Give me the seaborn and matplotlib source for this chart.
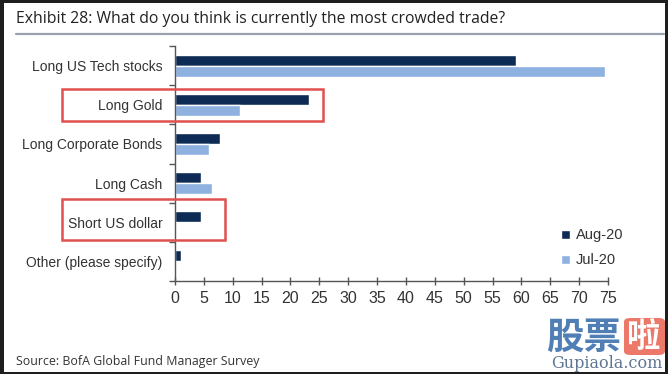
import pandas as pd
import matplotlib.pyplot as plt
import seaborn as sns
import numpy as np
from matplotlib.patches import Rectangle, FancyBboxPatch

# Data (% of respondents)
trades = ['Long US Tech stocks', 'Long Gold', 'Long Corporate Bonds',
          'Long Cash', 'Short US dollar', 'Other (please specify)']
aug20 = [59, 23.2, 7.8, 4.5, 4.5, 1.0]
jul20 = [74.5, 11.3, 5.9, 6.4, 0, 0]
months = ['Aug-20', 'Jul-20']
x_ticks = list(range(0, 80, 5))

navy = '#0d2b55'
light = '#8eb1e0'
red = '#e0504f'
txt = '#333333'

df = pd.DataFrame({
    'trade': trades * 2,
    'pct': aug20 + jul20,
    'month': [months[0]] * len(trades) + [months[1]] * len(trades),
})

sns.set_style('white')
plt.rcParams['font.family'] = ['Liberation Sans', 'DejaVu Sans']

W, H = 668, 374
fig = plt.figure(figsize=(W / 100, H / 100), dpi=100, facecolor='#1e1e1e')
fig.patches.append(Rectangle((4 / W, 2 / H), 661 / W, 369 / H, transform=fig.transFigure,
                             facecolor='white', edgecolor='none', zorder=-10))

ax = fig.add_axes([175 / W, 1 - 281 / H, 433 / W, 235 / H])
ax.set_facecolor('none')
sns.barplot(data=df, y='trade', x='pct', hue='month', hue_order=months, order=trades,
            orient='h', palette=[navy, light], width=0.56, saturation=1, ax=ax)

ax.set_xlim(0, 75)
ax.set_ylim(5.5, -0.5)
ax.set_xticks(x_ticks)
ax.set_xlabel('')
ax.set_ylabel('')
for s in ['top', 'right']:
    ax.spines[s].set_visible(False)
for s in ['left', 'bottom']:
    ax.spines[s].set_color('#555555')
    ax.spines[s].set_linewidth(1)

ax.tick_params(axis='x', direction='inout', length=6, width=1, color='#555555',
               labelsize=11.5, labelcolor=txt, pad=4, bottom=True)
ax.tick_params(axis='y', which='major', length=0, labelsize=10, labelcolor=txt, pad=9)
ax.set_yticks(np.arange(-0.5, 6, 1), minor=True)
ax.tick_params(axis='y', which='minor', direction='out', length=4, width=1,
               color='#555555', left=True)

ax.legend(loc='upper left', bbox_to_anchor=(0.875, 0.255), frameon=False, fontsize=10.5,
          handlelength=0.6, handleheight=0.6, handletextpad=0.4, labelspacing=0.75,
          labelcolor=txt, borderpad=0)

# red highlight boxes (figure pixels)
for x0, y0, x1, y1 in [(62, 89, 323, 121), (62, 199, 225, 240)]:
    fig.patches.append(Rectangle((x0 / W, 1 - y1 / H), (x1 - x0) / W, (y1 - y0) / H,
                                 transform=fig.transFigure, fill=False,
                                 edgecolor=red, linewidth=1.8, zorder=5))

# header
fig.text(16 / W, 1 - 19 / H, 'Exhibit 28: What do you think is currently the most crowded trade?',
         family=['Open Sans', 'DejaVu Sans'], fontsize=11.3, color='#222222', va='center')
fig.add_artist(plt.Line2D([16 / W, 664 / W], [1 - 34 / H, 1 - 34 / H],
                          color='#9aa3ad', linewidth=1.6))
fig.text(16 / W, 1 - 362 / H, 'Source: BofA Global Fund Manager Survey',
         family=['Open Sans', 'DejaVu Sans'], fontsize=8.9, color='#333333', va='center')

# watermark
fig.text(584 / W, 1 - 337 / H, '股票', family=['Noto Sans CJK SC', 'DejaVu Sans'],
         fontsize=27, fontweight='bold', color='#4f7fb5', ha='center', va='center')
fig.patches.append(FancyBboxPatch((624 / W, 1 - 355 / H), 41 / W, 37 / H,
                                  boxstyle='round,pad=0,rounding_size=0.01',
                                  transform=fig.transFigure, facecolor='#e8604f',
                                  edgecolor='none', alpha=0.85))
fig.text(644 / W, 1 - 337 / H, '啦', family=['Noto Sans CJK SC', 'DejaVu Sans'],
         fontsize=24, fontweight='bold', color='white', ha='center', va='center')
fig.text(607 / W, 1 - 364 / H, 'Gupiaola.com', family=['DejaVu Serif'],
         fontsize=11.5, color='#5f7693', ha='center', va='center')

plt.savefig('out.png', dpi=100, facecolor=fig.get_facecolor())
plt.close()
